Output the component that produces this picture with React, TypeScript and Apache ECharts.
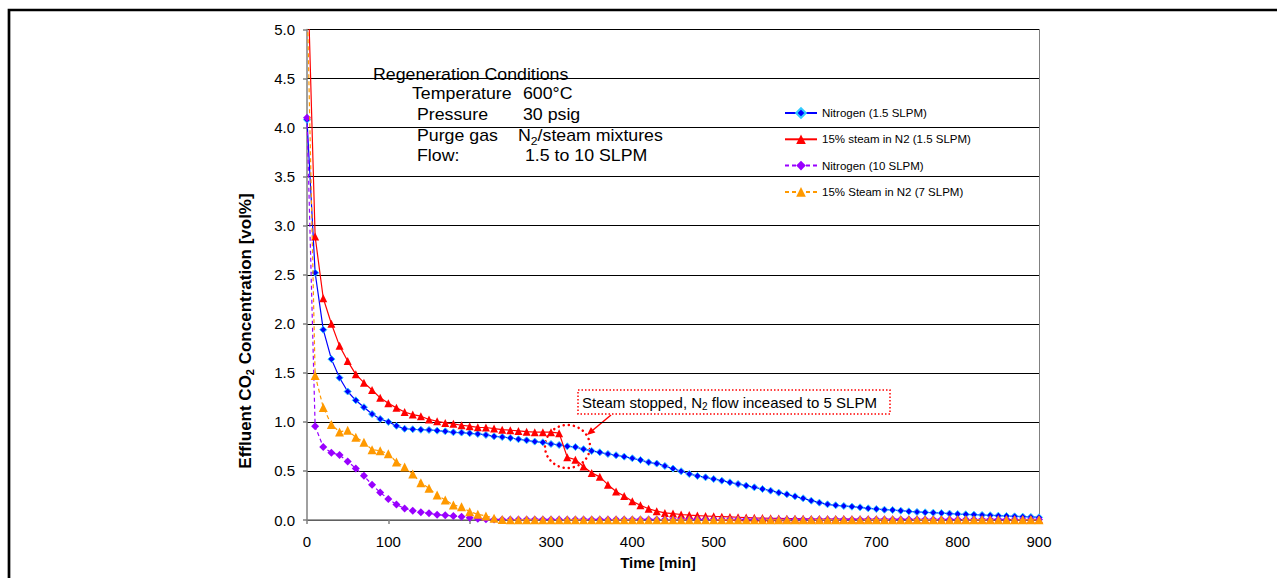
import React, { useEffect, useRef } from "react";
import * as echarts from "echarts";

const times = [0, 10, 20, 30, 40, 50, 60, 70, 80, 90, 100, 110, 120, 130, 140, 150, 160, 170, 180, 190, 200, 210, 220, 230, 240, 250, 260, 270, 280, 290, 300, 310, 320, 330, 340, 350, 360, 370, 380, 390, 400, 410, 420, 430, 440, 450, 460, 470, 480, 490, 500, 510, 520, 530, 540, 550, 560, 570, 580, 590, 600, 610, 620, 630, 640, 650, 660, 670, 680, 690, 700, 710, 720, 730, 740, 750, 760, 770, 780, 790, 800, 810, 820, 830, 840, 850, 860, 870, 880, 890, 900];

const nitrogen15 = [4.08, 2.52, 1.94, 1.64, 1.45, 1.31, 1.22, 1.15, 1.08, 1.03, 1.0, 0.96, 0.93, 0.925, 0.92, 0.918, 0.911, 0.904, 0.894, 0.891, 0.884, 0.877, 0.867, 0.853, 0.846, 0.836, 0.823, 0.812, 0.799, 0.792, 0.775, 0.765, 0.751, 0.744, 0.722, 0.704, 0.69, 0.673, 0.66, 0.646, 0.629, 0.612, 0.588, 0.575, 0.551, 0.524, 0.497, 0.469, 0.449, 0.435, 0.418, 0.401, 0.384, 0.367, 0.35, 0.333, 0.316, 0.299, 0.279, 0.262, 0.241, 0.221, 0.197, 0.177, 0.16, 0.15, 0.143, 0.136, 0.129, 0.119, 0.112, 0.105, 0.102, 0.095, 0.088, 0.082, 0.078, 0.075, 0.071, 0.065, 0.061, 0.058, 0.054, 0.051, 0.048, 0.044, 0.041, 0.037, 0.034, 0.031, 0.027];

const steam15 = [5.8, 2.89, 2.26, 2.0, 1.775, 1.62, 1.485, 1.4, 1.325, 1.245, 1.19, 1.143, 1.1, 1.075, 1.058, 1.025, 1.007, 0.99, 0.98, 0.966, 0.956, 0.945, 0.943, 0.932, 0.921, 0.915, 0.908, 0.9, 0.895, 0.895, 0.895, 0.885, 0.64, 0.615, 0.545, 0.48, 0.44, 0.36, 0.29, 0.245, 0.19, 0.15, 0.115, 0.09, 0.072, 0.065, 0.056, 0.05, 0.045, 0.041, 0.037, 0.034, 0.031, 0.028, 0.025, 0.022, 0.02, 0.018, 0.016, 0.014, 0.013, 0.012, 0.011, 0.01, 0.01, 0.009, 0.009, 0.008, 0.008, 0.008, 0.007, 0.007, 0.007, 0.006, 0.006, 0.006, 0.006, 0.005, 0.005, 0.005, 0.005, 0.005, 0.005, 0.004, 0.004, 0.004, 0.004, 0.004, 0.004, 0.004, 0.004];

const nitrogen10 = [4.1, 0.956, 0.744, 0.686, 0.662, 0.597, 0.526, 0.45, 0.36, 0.28, 0.213, 0.158, 0.118, 0.095, 0.078, 0.068, 0.054, 0.048, 0.041, 0.034, 0.024, 0.014, 0.008, 0.006, 0.006, 0.006, 0.006, 0.006, 0.006, 0.006, 0.006, 0.006, 0.006, 0.006, 0.006, 0.006, 0.006, 0.006, 0.006, 0.006, 0.006, 0.006, 0.006, 0.006, 0.006, 0.006, 0.006, 0.006, 0.006, 0.006, 0.006, 0.006, 0.006, 0.006, 0.006, 0.006, 0.006, 0.006, 0.006, 0.006, 0.006, 0.006, 0.006, 0.006, 0.006, 0.006, 0.006, 0.006, 0.006, 0.006, 0.006, 0.006, 0.006, 0.006, 0.006, 0.006, 0.006, 0.006, 0.006, 0.006, 0.006, 0.006, 0.006, 0.006, 0.006, 0.006, 0.006, 0.006, 0.006, 0.006, 0.006];

const steam7 = [5.4, 1.474, 1.147, 0.973, 0.898, 0.915, 0.843, 0.792, 0.717, 0.706, 0.676, 0.59, 0.539, 0.468, 0.38, 0.323, 0.255, 0.204, 0.153, 0.136, 0.085, 0.058, 0.041, 0.017, 0.005, 0.002, 0.002, 0.002, 0.002, 0.002, 0.002, 0.002, 0.002, 0.002, 0.002, 0.002, 0.002, 0.002, 0.002, 0.002, 0.002, 0.002, 0.002, 0.002, 0.002, 0.002, 0.002, 0.002, 0.002, 0.002, 0.002, 0.002, 0.002, 0.002, 0.002, 0.002, 0.002, 0.002, 0.002, 0.002, 0.002, 0.002, 0.002, 0.002, 0.002, 0.002, 0.002, 0.002, 0.002, 0.002, 0.002, 0.002, 0.002, 0.002, 0.002, 0.002, 0.002, 0.002, 0.002, 0.002, 0.002, 0.002, 0.002, 0.002, 0.002, 0.002, 0.002, 0.002, 0.002, 0.002, 0.002];

const seriesNames = [
  "Nitrogen (1.5 SLPM)",
  "15% steam in N2 (1.5 SLPM)",
  "Nitrogen (10 SLPM)",
  "15% Steam in N2 (7 SLPM)",
];

const yTicks = ["0.0", "0.5", "1.0", "1.5", "2.0", "2.5", "3.0", "3.5", "4.0", "4.5", "5.0"];

const FONT = "'Liberation Sans', Arial, sans-serif";

function pairs(vals: number[]) {
  return times.map((t, i) => [t, vals[i]]);
}

export default function App() {
  const ref = useRef<HTMLDivElement>(null);
  useEffect(() => {
    if (!ref.current) return;
    const chart = echarts.init(ref.current, null, { renderer: "svg" });
    const SX = 1.11;
    const textBase = { fontFamily: FONT, fill: "#000" };
    const subRich = {
      n: { fontSize: 16, fontFamily: FONT, color: "#000", lineHeight: 20 },
      s: { fontSize: 11, fontFamily: FONT, color: "#000", lineHeight: 12, verticalAlign: "bottom" },
    };
    const regenText = (x: number, y: number, text: string) => ({
      type: "text",
      x,
      y,
      scaleX: SX,
      style: { ...textBase, text, fontSize: 16, verticalAlign: "middle" },
    });
    const option: any = {
      animation: false,
      backgroundColor: "#fff",
      grid: { left: 307, top: 29.5, right: 238, bottom: 58, containLabel: false },
      xAxis: {
        type: "value",
        min: 0,
        max: 900,
        interval: 100,
        axisLine: { show: true, lineStyle: { color: "#808080", width: 1.5 } },
        axisTick: { show: true, length: 4, lineStyle: { color: "#808080", width: 1.5 } },
        axisLabel: { fontSize: 15, fontFamily: FONT, color: "#000", margin: 14 },
        splitLine: { show: false },
      },
      yAxis: [
        {
          type: "value",
          min: 0,
          max: 5,
          interval: 0.5,
          axisLine: { show: true, lineStyle: { color: "#808080", width: 1.5 } },
          axisTick: { show: true, length: 4, lineStyle: { color: "#808080", width: 1.5 } },
          axisLabel: {
            fontSize: 15,
            fontFamily: FONT,
            color: "#000",
            margin: 12,
            formatter: (v: number) => yTicks[Math.round(v / 0.5)] ?? "",
          },
          splitLine: { show: true, lineStyle: { color: "#000", width: 1 } },
        },
        {
          type: "value",
          min: 0,
          max: 5,
          position: "right",
          axisLine: { show: true, lineStyle: { color: "#808080", width: 1 } },
          axisTick: { show: false },
          axisLabel: { show: false },
          splitLine: { show: false },
        },
      ],
      legend: {
        orient: "vertical",
        left: 779,
        top: 102,
        itemWidth: 32,
        itemHeight: 12,
        itemGap: 14.3,
        textStyle: { fontSize: 11.5, fontFamily: FONT, color: "#000" },
        data: seriesNames,
      },
      series: [
        {
          name: seriesNames[0],
          type: "line",
          data: pairs(nitrogen15),
          symbol: "diamond",
          symbolSize: 7,
          itemStyle: { color: "#0000FF", borderColor: "#33CCFF", borderWidth: 1 },
          lineStyle: { color: "#0000FF", width: 1.2 },
          z: 2,
        },
        {
          name: seriesNames[1],
          type: "line",
          data: pairs(steam15),
          symbol: "triangle",
          symbolSize: 8,
          itemStyle: { color: "#FF0000" },
          lineStyle: { color: "#FF0000", width: 1.2 },
          z: 3,
        },
        {
          name: seriesNames[2],
          type: "line",
          data: pairs(nitrogen10),
          symbol: "diamond",
          symbolSize: 8,
          itemStyle: { color: "#9900FF" },
          lineStyle: { color: "#9900FF", width: 1.2, type: [4, 3] },
          z: 4,
        },
        {
          name: seriesNames[3],
          type: "line",
          data: pairs(steam7),
          symbol: "triangle",
          symbolSize: 9,
          itemStyle: { color: "#FF9900" },
          lineStyle: { color: "#FF9900", width: 1.2, type: [4, 3] },
          z: 5,
        },
      ],
      graphic: [
        {
          type: "rect",
          z: 100,
          shape: { x: 9, y: 10, width: 1400, height: 700 },
          style: { fill: "none", stroke: "#000", lineWidth: 2.7 },
        },
        {
          type: "group",
          z: 50,
          children: [
            { type: "rect", shape: { x: 370, y: 60, width: 342, height: 124 }, style: { fill: "#fff" } },
            regenText(373, 75, "Regeneration Conditions"),
            regenText(412, 94, "Temperature"),
            regenText(523, 94, "600°C"),
            regenText(417, 115, "Pressure"),
            regenText(523, 115, "30 psig"),
            regenText(417, 136, "Purge gas"),
            {
              type: "text",
              x: 518,
              y: 136,
              scaleX: SX,
              style: { text: "{n|N}{s|2}{n|/steam mixtures}", rich: subRich, verticalAlign: "middle" },
            },
            regenText(417, 156, "Flow:"),
            regenText(525, 156, "1.5 to 10 SLPM"),
          ],
        },
        {
          type: "group",
          z: 60,
          children: [
            {
              type: "rect",
              shape: { x: 578, y: 390, width: 312, height: 24 },
              style: { fill: "#fff", stroke: "#FF0000", lineWidth: 1.5, lineDash: [1.5, 2] },
            },
            {
              type: "text",
              x: 582,
              y: 402.5,
              style: {
                text: "{n|Steam stopped, N}{s|2}{n| flow inceased to 5 SLPM}",
                verticalAlign: "middle",
                rich: {
                  n: { fontSize: 15, fontFamily: FONT, color: "#000", lineHeight: 18 },
                  s: { fontSize: 10, fontFamily: FONT, color: "#000", lineHeight: 11, verticalAlign: "bottom" },
                },
              },
            },
            {
              type: "ellipse",
              shape: { cx: 567.5, cy: 446.5, rx: 22.5, ry: 21.5 },
              style: { fill: "none", stroke: "#FF0000", lineWidth: 2.5, lineDash: [0.1, 5], lineCap: "round" },
            },
            {
              type: "line",
              shape: { x1: 611, y1: 415, x2: 593, y2: 430 },
              style: { stroke: "#FF0000", lineWidth: 1.5 },
            },
            {
              type: "polygon",
              shape: { points: [[587, 435], [595.4, 432.6], [590.9, 427.2]] },
              style: { fill: "#FF0000" },
            },
          ],
        },
        {
          type: "text",
          z: 60,
          x: 245,
          y: 331,
          rotation: Math.PI / 2,
          style: {
            text: "{n|Effluent CO}{s|2}{n| Concentration [vol%]}",
            align: "center",
            verticalAlign: "middle",
            rich: {
              n: { fontSize: 17, fontWeight: "bold", fontFamily: FONT, color: "#000", lineHeight: 20 },
              s: { fontSize: 11, fontWeight: "bold", fontFamily: FONT, color: "#000", lineHeight: 12, verticalAlign: "bottom" },
            },
          },
        },
        {
          type: "text",
          z: 60,
          x: 658,
          y: 562,
          style: { ...textBase, text: "Time [min]", fontSize: 15, fontWeight: "bold", align: "center", verticalAlign: "middle" },
        },
      ],
    };
    chart.setOption(option);
    return () => chart.dispose();
  }, []);
  return <div ref={ref} style={{ position: "absolute", left: 0, top: 0, width: 1277, height: 578 }} />;
}
